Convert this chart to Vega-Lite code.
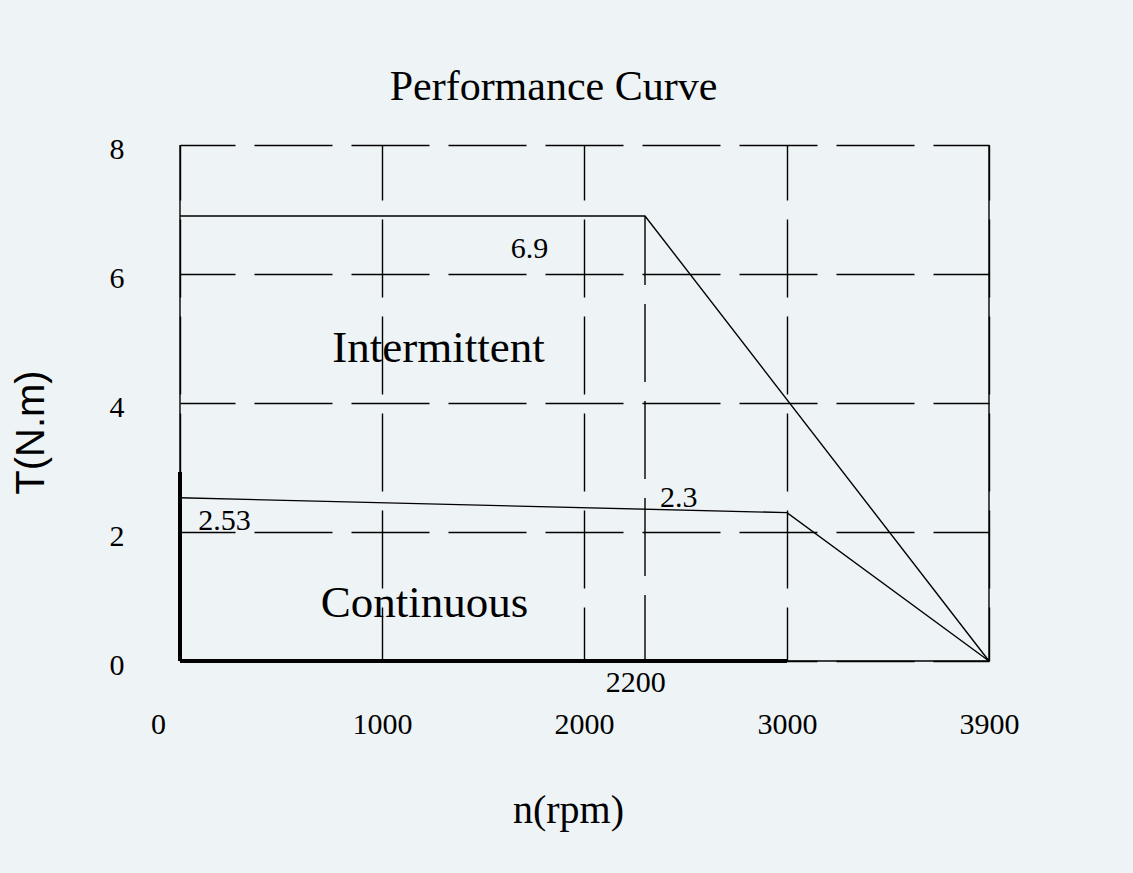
{
  "$schema": "https://vega.github.io/schema/vega-lite/v6.json",
  "background": "#EEF3F6",
  "autosize": {"type": "none"},
  "padding": {"left": 180, "top": 145, "right": 144, "bottom": 212},
  "width": 809,
  "height": 516,
  "title": {
    "text": "Performance Curve",
    "font": "Liberation Serif",
    "fontSize": 42,
    "fontWeight": "normal",
    "color": "#000000",
    "anchor": "middle",
    "frame": "group",
    "dx": -31,
    "baseline": "alphabetic",
    "offset": -8
  },
  "datasets": {
    "frame": [
      {"n": 0, "t": 0, "n2": 0, "t2": 8},
      {"n": 3900, "t": 0, "n2": 3900, "t2": 8},
      {"n": 0, "t": 0, "n2": 3900, "t2": 0}
    ],
    "knee": [
      {"n": 2200, "t": 0, "n2": 2200, "t2": 6.9}
    ],
    "curves": [
      {"series": "Intermittent", "n": 0, "t": 6.9},
      {"series": "Intermittent", "n": 2200, "t": 6.9},
      {"series": "Intermittent", "n": 3900, "t": 0},
      {"series": "Continuous", "n": 0, "t": 2.53},
      {"series": "Continuous", "n": 3000, "t": 2.3},
      {"series": "Continuous", "n": 3900, "t": 0}
    ],
    "limits": [
      {"n": 0, "t": 0, "n2": 0, "t2": 2.93},
      {"n": 0, "t": 0, "n2": 3000, "t2": 0}
    ],
    "notes": [
      {"label": "6.9", "n": 1730, "t": 6.25, "size": "value"},
      {"label": "2.53", "n": 220, "t": 2.03, "size": "value"},
      {"label": "2.3", "n": 2390, "t": 2.39, "size": "value"},
      {"label": "2200", "n": 2170, "t": -0.48, "size": "value"},
      {"label": "Intermittent", "n": 1280, "t": 4.64, "size": "zone"},
      {"label": "Continuous", "n": 1210, "t": 0.68, "size": "zone"}
    ]
  },
  "encoding": {
    "x": {
      "field": "n",
      "type": "quantitative",
      "scale": {
        "domain": [0, 1000, 2000, 2200, 3000, 3900],
        "range": [0, 202, 404, 465, 607, 809],
        "nice": false,
        "zero": false
      },
      "axis": {
        "values": [0, 1000, 2000, 3000, 3900],
        "format": "d",
        "grid": true,
        "gridColor": "#000000",
        "gridOpacity": 1,
        "gridWidth": 1.4,
        "gridDash": [78, 19],
        "gridDashOffset": 23,
        "domain": false,
        "ticks": false,
        "tickSize": 0,
        "labelFont": "Liberation Serif",
        "labelFontSize": 30,
        "labelColor": "#000000",
        "labelPadding": 72,
        "labelBaseline": "alphabetic",
        "labelFlush": false,
        "labelOverlap": false,
        "labelBound": false,
        "labelOffset": {"condition": {"test": "datum.value === 0", "value": -22}, "value": 0},
        "title": "n(rpm)",
        "titleFont": "Liberation Serif",
        "titleFontSize": 40,
        "titleFontWeight": "normal",
        "titleColor": "#000000",
        "titleX": 388,
        "titleY": 161,
        "titleAlign": "center",
        "titleBaseline": "alphabetic"
      }
    },
    "y": {
      "field": "t",
      "type": "quantitative",
      "scale": {"domain": [0, 8], "nice": false, "zero": false},
      "axis": {
        "values": [0, 2, 4, 6, 8],
        "grid": true,
        "gridColor": "#000000",
        "gridOpacity": 1,
        "gridWidth": 1.4,
        "gridDash": [78, 19],
        "gridDashOffset": 23,
        "domain": false,
        "ticks": false,
        "tickSize": 0,
        "labelFont": "Liberation Serif",
        "labelFontSize": 30,
        "labelColor": "#000000",
        "labelPadding": 56,
        "labelBaseline": "alphabetic",
        "labelOffset": 13,
        "labelOverlap": false,
        "labelBound": false,
        "title": "T(N.m)",
        "titleFont": "Liberation Sans",
        "titleFontSize": 40,
        "titleFontWeight": "normal",
        "titleColor": "#000000",
        "titleAngle": 270,
        "titleX": -137,
        "titleY": 287,
        "titleAlign": "center",
        "titleBaseline": "alphabetic"
      }
    }
  },
  "layer": [
    {
      "data": {"name": "frame"},
      "mark": {"type": "rule", "color": "#000000", "strokeWidth": 1.4},
      "encoding": {
        "x2": {"field": "n2"},
        "y2": {"field": "t2"}
      }
    },
    {
      "data": {"name": "knee"},
      "mark": {"type": "rule", "color": "#000000", "strokeWidth": 1.4, "strokeDash": [78, 19], "strokeDashOffset": 12},
      "encoding": {
        "x2": {"field": "n2"},
        "y2": {"field": "t2"}
      }
    },
    {
      "data": {"name": "curves"},
      "mark": {"type": "line", "color": "#000000", "strokeWidth": 1.4},
      "encoding": {
        "detail": {"field": "series"}
      }
    },
    {
      "data": {"name": "limits"},
      "mark": {"type": "rule", "color": "#000000", "strokeWidth": 4},
      "encoding": {
        "x2": {"field": "n2"},
        "y2": {"field": "t2"}
      }
    },
    {
      "data": {"name": "notes"},
      "mark": {"type": "text", "font": "Liberation Serif", "color": "#000000", "align": "center", "baseline": "alphabetic"},
      "encoding": {
        "text": {"field": "label"},
        "size": {
          "field": "size",
          "type": "nominal",
          "scale": {"domain": ["value", "zone"], "range": [30, 45]},
          "legend": null
        }
      }
    }
  ],
  "config": {
    "view": {"stroke": null}
  }
}
